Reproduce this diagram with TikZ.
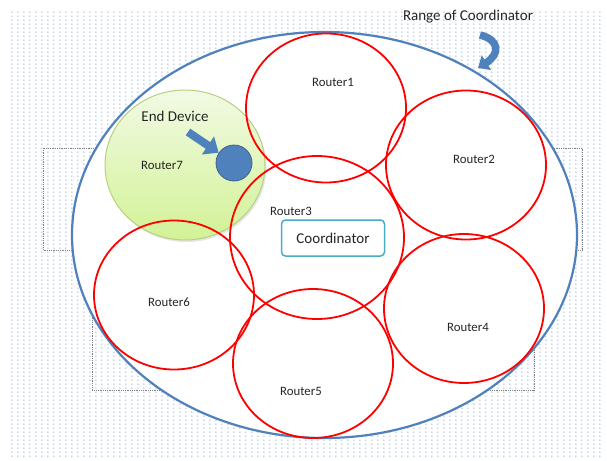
\documentclass[tikz,border=0pt]{standalone}
\usepackage{fontspec}
\setmainfont{Carlito}
\usetikzlibrary{arrows.meta,patterns.meta,shadows,shapes.geometric}
\definecolor{dotblue}{RGB}{100,140,205}
\definecolor{ellblue}{RGB}{79,129,189}
\definecolor{coordc}{RGB}{75,172,198}
\definecolor{greenfillA}{RGB}{242,250,228}
\definecolor{greenfillB}{RGB}{210,242,150}
\definecolor{greenline}{RGB}{185,208,128}
\definecolor{txt}{RGB}{38,38,38}
\tikzdeclarepattern{
  name=bgdots,
  type=colored,
  bounding box={(0pt,0pt) and (5.7pt,4.3pt)},
  tile size={(5.7pt,4.3pt)},
  code={\fill[dotblue] (1pt,1pt) circle (0.7pt);}
}
\begin{document}
\begin{tikzpicture}[x=1pt,y=-1pt,
  router/.style={draw=red, line width=1.8pt, ellipse, minimum width=160pt, minimum height=149pt, inner sep=0pt},
  rlabel/.style={font=\fontsize{12.8}{14}\selectfont, text=txt, inner sep=0pt},
  biglabel/.style={font=\fontsize{15}{18}\selectfont, text=txt, inner sep=0pt},
  guide/.style={draw=gray, densely dotted, line width=0.8pt},
  blockarrow/.style={draw=ellblue, line cap=butt}]
\useasboundingbox (0,0) rectangle (607,460);
\fill[white] (0,0) rectangle (607,460);
\fill[pattern=bgdots] (10,10) rectangle (602,456);
\draw[guide] (43,148) rectangle (582,250);
\draw[guide] (92,250) rectangle (534,390);
\node[ellipse, draw=ellblue, fill=white, line width=2.2pt, minimum width=505pt, minimum height=406pt, inner sep=0pt] (range) at (324.5,235) {};
\node[ellipse, draw=greenline, line width=1pt, top color=greenfillA, bottom color=greenfillB, minimum width=160pt, minimum height=150pt, inner sep=0pt, drop shadow={opacity=0.2, shadow xshift=1.5pt, shadow yshift=-2pt}] (r7) at (185,165) {};
\node[router] (r1) at (326,108) {};
\node[router] (r2) at (466,165) {};
\node[router, minimum width=174pt, minimum height=163pt] (r3) at (317,237.5) {};
\node[router] (r4) at (464,308.5) {};
\node[router] (r5) at (313,363.5) {};
\node[router] (r6) at (174,295) {};
\node[rlabel] (l1) at (333,82) {Router1};
\node[rlabel] (l2) at (474,159) {Router2};
\node[rlabel] (l3) at (291,211) {Router3};
\node[rlabel] (l4) at (468,327) {Router4};
\node[rlabel] (l5) at (301,391) {Router5};
\node[rlabel] (l6) at (169,302) {Router6};
\node[rlabel] (l7) at (162,165) {Router7};
\node[circle, fill=ellblue, draw=ellblue!75!black, line width=0.8pt, minimum size=36pt, inner sep=0pt] (ed) at (234,163) {};
\node[biglabel] (edl) at (175,116) {End Device};
\coordinate (ea) at (188,132);
\draw[blockarrow, line width=8pt, -{Triangle[width=21pt,length=13pt]}] (ea) -- (ed);
\node[draw=coordc, rounded corners=4pt, line width=1.5pt, fill=white, minimum width=103pt, minimum height=36pt, biglabel] (coord) at (333,238) {Coordinator};
\node[biglabel] (rl) at (468,17) {Range of Coordinator};
\coordinate (ra0) at (480,35);
\coordinate (ra1) at (478,68);
\draw[blockarrow, line width=7.5pt, -{Triangle[width=17pt,length=10pt]}] (ra0) .. controls (500,40) and (500,54) .. (ra1);
\end{tikzpicture}
\end{document}
